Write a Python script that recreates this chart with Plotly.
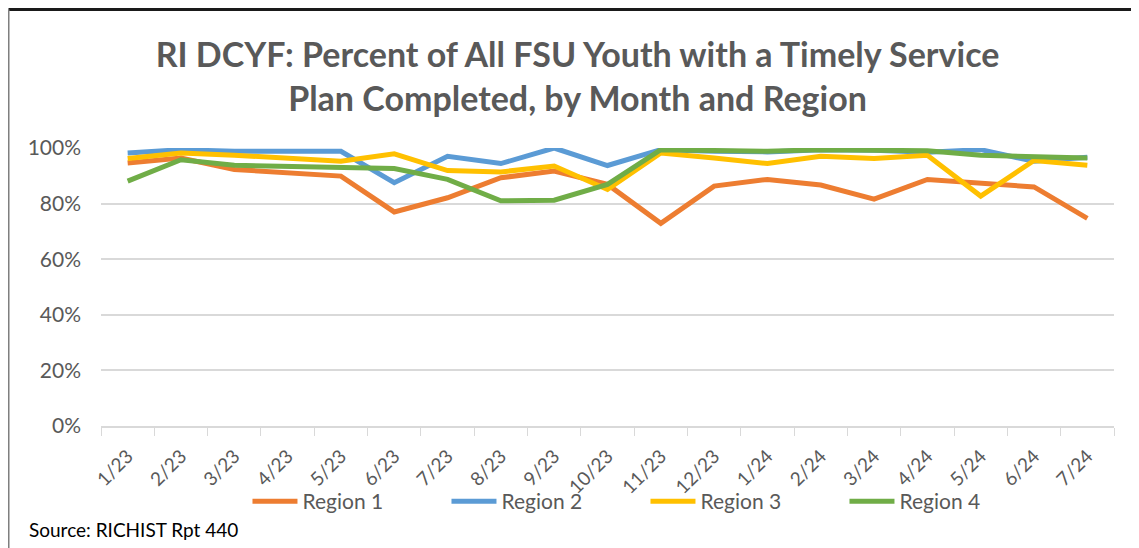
import plotly.graph_objects as go

months = ["1/23", "2/23", "3/23", "4/23", "5/23", "6/23", "7/23", "8/23", "9/23", "10/23",
          "11/23", "12/23", "1/24", "2/24", "3/24", "4/24", "5/24", "6/24", "7/24"]

region1 = [0.946, 0.964, 0.923, 0.911, 0.899, 0.770, 0.821, 0.893, 0.917, 0.869,
           0.729, 0.863, 0.887, 0.867, 0.816, 0.887, 0.875, 0.860, 0.747]
region2 = [0.982, 0.994, 0.988, 0.988, 0.988, 0.875, 0.970, 0.944, 1.000, 0.937,
           0.994, 0.988, 0.986, 0.994, 0.992, 0.985, 0.994, 0.952, 0.967]
region3 = [0.962, 0.982, 0.974, 0.964, 0.952, 0.979, 0.919, 0.914, 0.935, 0.851,
           0.982, 0.964, 0.944, 0.970, 0.962, 0.974, 0.827, 0.955, 0.938]
region4 = [0.881, 0.958, 0.938, 0.935, 0.932, 0.926, 0.887, 0.810, 0.812, 0.869,
           0.994, 0.990, 0.988, 0.994, 0.994, 0.990, 0.974, 0.970, 0.964]

series = [("Region 1", region1, "#ED7D31"),
          ("Region 2", region2, "#5B9BD5"),
          ("Region 3", region3, "#FFC000"),
          ("Region 4", region4, "#70AD47")]

font = "Lato"
grey = "#595959"

fig = go.Figure()
for name, vals, color in series:
    fig.add_trace(go.Scatter(x=months, y=vals, name=name, mode="lines",
                             line=dict(color=color, width=5),
                             cliponaxis=False))

# note: page body has an 8px margin, so positions are shifted up/left by 8px
fig.update_layout(
    width=1139, height=548,
    margin=dict(l=93, r=33, t=140, b=130),
    paper_bgcolor="white", plot_bgcolor="white",
    font=dict(family=font, color=grey, size=20),
    title=dict(text="<b>RI DCYF: Percent of All FSU Youth with a Timely Service<br>"
                    "Plan Completed, by Month and Region</b>",
               x=0.5, xanchor="center", y=0.893, yanchor="middle",
               font=dict(family=font, size=34, color=grey)),
    showlegend=True,
    legend=dict(orientation="h", x=0.1446, xanchor="left", y=-0.198, yanchor="top",
                bgcolor="rgba(0,0,0,0)",
                font=dict(size=21, color=grey), entrywidth=139, entrywidthmode="pixels",
                itemwidth=45, tracegroupgap=0),
)

fig.update_xaxes(type="category", range=[-0.5, len(months) - 0.5],
                 showgrid=False, showline=True, linecolor="#D9D9D9",
                 linewidth=1.5, ticks="outside", tickson="boundaries", ticklen=8,
                 tickcolor="#D9D9D9", tickangle=-45, ticklabelstandoff=10,
                 tickfont=dict(size=19, color=grey))
fig.update_yaxes(range=[0, 1.0], dtick=0.2, tickformat=".0%", showgrid=True,
                 gridcolor="#D9D9D9", gridwidth=1.5, zeroline=False, showline=False,
                 ticks="", ticklabelstandoff=19, tickfont=dict(size=21, color=grey))

# source note
fig.add_annotation(text="Source: RICHIST Rpt 440", xref="paper", yref="paper",
                   x=-0.073, xanchor="left", y=-0.374, yanchor="middle", showarrow=False,
                   font=dict(family=font, size=19, color="black"))

# chart frame
fig.add_shape(type="line", xref="paper", yref="paper", x0=-0.0913, x1=1.0207,
              y0=1.4982, y1=1.4982, line=dict(color="#1a1a1a", width=3))
fig.add_shape(type="line", xref="paper", yref="paper", x0=-0.0913, x1=-0.0913,
              y0=1.4982, y1=-0.5, line=dict(color="#7f7f7f", width=2))
fig.add_shape(type="line", xref="paper", yref="paper", x0=1.0207, x1=1.0207,
              y0=1.4982, y1=-0.5, line=dict(color="#1a1a1a", width=2))

fig.write_html("out.html")
